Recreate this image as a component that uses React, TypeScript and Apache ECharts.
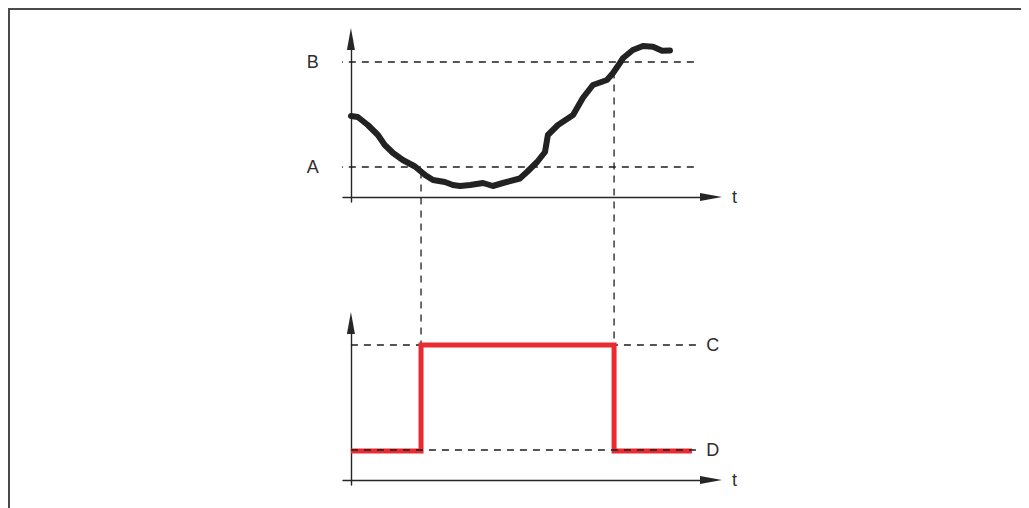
import React, { useEffect, useRef } from "react";
import * as echarts from "echarts";

// Measured signal (top chart): time vs level, arbitrary units
const curveTime = [0, 1.9, 4.7, 7.5, 9.4, 11.7, 14.4, 17.8, 20.6, 22.8, 26.1, 28.3, 30.3, 33.1, 36.7, 39.4, 42.2, 46.9, 48.9, 51.7, 53.9, 54.7, 57.5, 61.7, 64.4, 67.2, 71.1, 72.8, 74.7, 75.6, 78.3, 81.1, 83.9, 86.4, 88.6];
const curveLevel = [81, 80, 72, 62, 52, 44, 37, 30.5, 22, 17, 15, 12, 11, 12, 14, 11, 14, 18.5, 25, 35, 45, 62, 72, 82, 99, 112, 117, 124, 134, 139, 147, 151, 150.3, 146.3, 146.5];

// Thresholds (top) and output states (bottom)
const thresholdLabels = ["A", "B"];
const thresholdLevels = [30, 135];
const thresholdSpan = [-7.8, 96.2];
const stateLabels = ["C", "D"];
const stateLevels = [135, 30];
const stateSpan = [0, 96.2];

// Switching output (bottom chart)
const switchTimes = [19.47, 73.08];
const outputTime = [0, 19.47, 19.47, 73.08, 73.08, 94.7];
const outputLevel = [29, 29, 135, 135, 29, 29];

const axisName = "t";

function levelAt(t: number): number {
  for (let i = 1; i < curveTime.length; i++) {
    if (t <= curveTime[i]) {
      const f = (t - curveTime[i - 1]) / (curveTime[i] - curveTime[i - 1]);
      return curveLevel[i - 1] + f * (curveLevel[i] - curveLevel[i - 1]);
    }
  }
  return curveLevel[curveLevel.length - 1];
}

export default function App() {
  const ref = useRef<HTMLDivElement>(null);
  useEffect(() => {
    document.documentElement.style.overflow = "hidden";
    const chart = echarts.init(ref.current!, null, { renderer: "svg" });
    const font = "Liberation Sans, Arial, sans-serif";
    const ink = "#2e2e2e";
    const labelStyle = { color: ink, fontSize: 18, fontFamily: font };
    const axisLine = {
      onZero: true,
      symbol: ["none", "triangle"],
      symbolSize: [8, 22],
      lineStyle: { color: "#262626", width: 1.4 },
    };
    const hidden = {
      axisTick: { show: false },
      axisLabel: { show: false },
      splitLine: { show: false },
    };
    const dashStyle = { color: "#1e1e1e", width: 1.3, type: [7, 6] as any };

    const dashed = (
      gi: number,
      pts: number[][],
      labelIdx: number,
      text: string,
      pos: string,
      distance: number,
      z: number
    ) => ({
      type: "line",
      xAxisIndex: gi,
      yAxisIndex: gi,
      data: pts.map((p, i) =>
        i === labelIdx
          ? { value: p, label: { show: true, formatter: text, position: pos, distance, ...labelStyle } }
          : p
      ),
      symbol: "circle",
      symbolSize: 0,
      showSymbol: true,
      clip: false,
      silent: true,
      label: { show: false },
      lineStyle: dashStyle,
      z,
    });

    const series: any[] = [];
    thresholdLevels.forEach((lv, i) => {
      series.push(
        dashed(0, [[thresholdSpan[0], lv], [thresholdSpan[1], lv]], 0, thresholdLabels[i], "left", 4, 2)
      );
    });
    stateLevels.forEach((lv, i) => {
      series.push(
        dashed(1, [[stateSpan[0], lv], [stateSpan[1], lv]], 1, stateLabels[i], "right", 9, i === 0 ? 1 : 4)
      );
    });
    series.push({
      type: "line",
      xAxisIndex: 0,
      yAxisIndex: 0,
      data: curveTime.map((t, i) => [t, curveLevel[i]]),
      showSymbol: false,
      clip: false,
      silent: true,
      lineStyle: { color: "#222222", width: 6, cap: "round", join: "round" },
      z: 5,
    });
    series.push({
      type: "line",
      xAxisIndex: 1,
      yAxisIndex: 1,
      data: outputTime.map((t, i) => [t, outputLevel[i]]),
      showSymbol: false,
      clip: false,
      silent: true,
      lineStyle: { color: "#ea2a31", width: 5, join: "miter" },
      z: 3,
    });

    const option: any = {
      animation: false,
      grid: [
        { left: 333, width: 368, top: 29, height: 163 },
        { left: 333, width: 368, top: 313, height: 162 },
      ],
      xAxis: [0, 1].map((i) => ({
        type: "value",
        gridIndex: i,
        min: -2.2,
        max: 100,
        axisLine,
        ...hidden,
        name: axisName,
        nameLocation: "end",
        nameGap: 21,
        nameTextStyle: { ...labelStyle, verticalAlign: "middle" },
      })),
      yAxis: [
        { type: "value", gridIndex: 0, min: -5, max: 158, axisLine, ...hidden },
        { type: "value", gridIndex: 1, min: -5, max: 157, axisLine, ...hidden },
      ],
      series,
    };
    chart.setOption(option);

    // Vertical dashed guides from the signal down to the output's upper state
    const yC = chart.convertToPixel({ yAxisIndex: 1 }, stateLevels[0]) as number;
    const cInTop = chart.convertFromPixel({ yAxisIndex: 0 }, yC) as number;
    const guides = switchTimes.map((t) => ({
      type: "line",
      xAxisIndex: 0,
      yAxisIndex: 0,
      data: [[t, levelAt(t)], [t, cInTop]],
      showSymbol: false,
      clip: false,
      silent: true,
      lineStyle: dashStyle,
      z: 1,
    }));
    chart.setOption({ series: [...series, ...guides] });

    return () => chart.dispose();
  }, []);

  return (
    <div
      style={{
        borderTop: "2px solid #4a4a4a",
        borderLeft: "2px solid #4a4a4a",
        width: 1019,
        height: 498,
      }}
    >
      <div ref={ref} style={{ width: 1019, height: 498 }} />
    </div>
  );
}
